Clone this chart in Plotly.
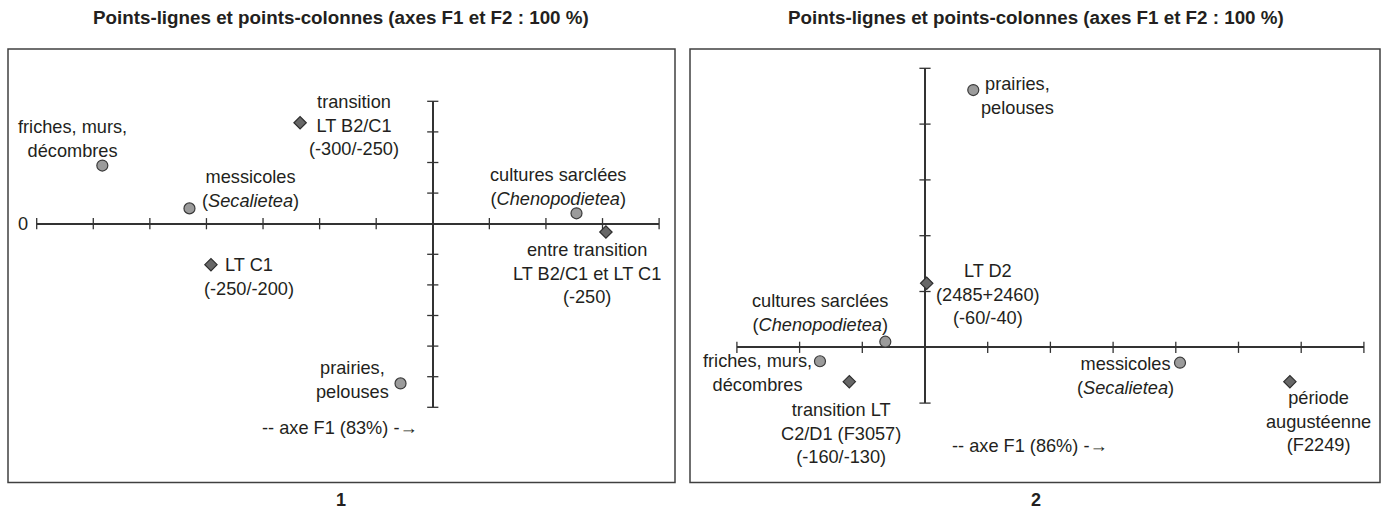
import numpy as np
import plotly.graph_objects as go

W, H = 1384, 515

# ---------------- DATA ----------------
# Panel 1 : points-colonnes (catégories écologiques) and points-lignes (périodes)
p1_cat_labels = ["friches, murs,<br>décombres", "messicoles<br>(<i>Secalietea</i>)",
                 "cultures sarclées<br>(<i>Chenopodietea</i>)", "prairies,<br>pelouses"]
p1_cat_x = [-0.584, -0.430, 0.254, -0.057]
p1_cat_y = [0.095, 0.025, 0.017, -0.261]

p1_per_labels = ["transition<br>LT B2/C1<br>(-300/-250)", "LT C1<br>(-250/-200)",
                 "entre transition<br>LT B2/C1 et LT C1<br>(-250)"]
p1_per_x = [-0.2345, -0.392, 0.306]
p1_per_y = [0.165, -0.067, -0.0136]

p1_xrange, p1_xstep = [-0.7, 0.4], 0.1
p1_yrange, p1_ystep = [-0.3, 0.2], 0.05

# Panel 2
p2_cat_labels = ["prairies,<br>pelouses", "cultures sarclées<br>(<i>Chenopodietea</i>)",
                 "friches, murs,<br>décombres", "messicoles<br>(<i>Secalietea</i>)"]
p2_cat_x = [0.077, -0.0633, -0.1675, 0.4067]
p2_cat_y = [0.461, 0.010, -0.025, -0.0276]

p2_per_labels = ["LT D2<br>(2485+2460)<br>(-60/-40)", "transition LT<br>C2/D1 (F3057)<br>(-160/-130)",
                 "période<br>augustéenne<br>(F2249)"]
p2_per_x = [0.0027, -0.1207, 0.582]
p2_per_y = [0.1147, -0.0616, -0.0616]

p2_xrange, p2_xstep = [-0.3, 0.7], 0.1
p2_yrange, p2_ystep = [-0.1, 0.5], 0.1

titles = ["Points-lignes et points-colonnes (axes F1 et F2 : 100 %)",
          "Points-lignes et points-colonnes (axes F1 et F2 : 100 %)"]
panel_names = ["1", "2"]
axis_texts = ["-- axe F1 (83%) -→", "-- axe F1 (86%) -→"]

# ---------------- STYLE / LAYOUT ----------------
TXT = "#231f20"
AX = "#333333"
FONT = "Liberation Sans, Arial, sans-serif"
FS = 18.2

# label offsets in pixels (dx right, dy up) relative to each point
p1_cat_off = [(-30, 27), (61, 19), (-18, 26), (-48, 3)]
p1_per_off = [(54, -3), (38, -12), (-19, -41)]
p2_cat_off = [(44, -6), (-65, 29), (-62, -12), (-55, -13)]
p2_per_off = [(61, -11), (-8, -52), (29, -40)]

# plot-area extents in pixels (x0, x1, y0, y1)
p1_px = (36.7, 659.1, 101.3, 407.3)
p2_px = (736.9, 1363.9, 68.3, 403.1)


def dom(px):
    x0, x1, y0, y1 = px
    return [x0 / W, x1 / W], [1 - y1 / H, 1 - y0 / H]


fig = go.Figure()


def add_panel(idx, xr, xs, yr, ys, cat_x, cat_y, per_x, per_y, cat_lab, per_lab, cat_off, per_off):
    sx = "" if idx == 1 else str(idx)
    xa, ya = "x" + sx, "y" + sx
    # tick marks crossing the axes
    xt = np.round(np.arange(xr[0], xr[1] + xs / 2, xs), 6)
    yt = np.round(np.arange(yr[0], yr[1] + ys / 2, ys), 6)
    fig.add_trace(go.Scatter(x=xt, y=np.zeros_like(xt), mode="markers", xaxis=xa, yaxis=ya,
                             marker=dict(symbol="line-ns-open", size=8, color=AX, line=dict(width=1.3, color=AX)),
                             hoverinfo="skip", showlegend=False, cliponaxis=False))
    fig.add_trace(go.Scatter(x=np.zeros_like(yt), y=yt, mode="markers", xaxis=xa, yaxis=ya,
                             marker=dict(symbol="line-ew-open", size=8, color=AX, line=dict(width=1.3, color=AX)),
                             hoverinfo="skip", showlegend=False, cliponaxis=False))
    # points-colonnes (circles)
    fig.add_trace(go.Scatter(x=cat_x, y=cat_y, mode="markers", xaxis=xa, yaxis=ya,
                             marker=dict(symbol="circle", size=11, color="#9b9b9b",
                                         line=dict(width=1.2, color="#3a3a3a")),
                             showlegend=False, cliponaxis=False))
    # points-lignes (diamonds)
    fig.add_trace(go.Scatter(x=per_x, y=per_y, mode="markers", xaxis=xa, yaxis=ya,
                             marker=dict(symbol="diamond", size=9.5, color="#676767",
                                         line=dict(width=1.2, color="#2e2e2e")),
                             showlegend=False, cliponaxis=False))
    for xs_, ys_, labs, offs in ((cat_x, cat_y, cat_lab, cat_off), (per_x, per_y, per_lab, per_off)):
        for x, y, t, (dx, dy) in zip(xs_, ys_, labs, offs):
            fig.add_annotation(x=x, y=y, xref=xa, yref=ya, text=t, showarrow=False,
                               xanchor="center", yanchor="middle", align="center",
                               xshift=dx, yshift=dy, font=dict(size=FS, color=TXT, family=FONT))


add_panel(1, p1_xrange, p1_xstep, p1_yrange, p1_ystep, p1_cat_x, p1_cat_y, p1_per_x, p1_per_y,
          p1_cat_labels, p1_per_labels, p1_cat_off, p1_per_off)
add_panel(2, p2_xrange, p2_xstep, p2_yrange, p2_ystep, p2_cat_x, p2_cat_y, p2_per_x, p2_per_y,
          p2_cat_labels, p2_per_labels, p2_cat_off, p2_per_off)

d1x, d1y = dom(p1_px)
d2x, d2y = dom(p2_px)
ax_common = dict(showgrid=False, showticklabels=False, ticks="", showline=False,
                 zeroline=True, zerolinecolor=AX, zerolinewidth=1.5, fixedrange=True)
fig.update_layout(
    width=W, height=H, margin=dict(l=0, r=0, t=0, b=0),
    paper_bgcolor="white", plot_bgcolor="white",
    xaxis=dict(domain=d1x, range=p1_xrange, anchor="y", **ax_common),
    yaxis=dict(domain=d1y, range=p1_yrange, anchor="x", **ax_common),
    xaxis2=dict(domain=d2x, range=p2_xrange, anchor="y2", **ax_common),
    yaxis2=dict(domain=d2y, range=p2_yrange, anchor="x2", **ax_common),
    showlegend=False,
)

# panel frames
for (x0, x1) in [(8, 675), (690, 1380)]:
    fig.add_shape(type="rect", xref="paper", yref="paper", x0=x0 / W, x1=x1 / W,
                  y0=1 - 482.5 / H, y1=1 - 49 / H, line=dict(color="#404040", width=1.5))

# titles, panel numbers, axis captions
for cx, t, n in [(341, titles[0], panel_names[0]), (1036, titles[1], panel_names[1])]:
    fig.add_annotation(x=cx / W, y=1 - 17 / H, xref="paper", yref="paper", text="<b>" + t + "</b>",
                       showarrow=False, xanchor="center", yanchor="middle",
                       font=dict(size=18.8, color=TXT, family=FONT))
    fig.add_annotation(x=cx / W, y=1 - 500 / H, xref="paper", yref="paper", text="<b>" + n + "</b>",
                       showarrow=False, xanchor="center", yanchor="middle",
                       font=dict(size=18, color=TXT, family=FONT))

for cx, cy, t in [(340, 428, axis_texts[0]), (1030, 446, axis_texts[1])]:
    fig.add_annotation(x=cx / W, y=1 - cy / H, xref="paper", yref="paper", text=t,
                       showarrow=False, xanchor="center", yanchor="middle",
                       font=dict(size=FS, color=TXT, family=FONT))

# "0" on the left panel's vertical scale
fig.add_annotation(x=0, y=0, xref="paper", yref="y", text="0", showarrow=False,
                   xanchor="center", yanchor="middle", xshift=23,
                   font=dict(size=FS, color=TXT, family=FONT))

fig.write_html("out.html", config={"displayModeBar": False},
               post_script="document.body.style.margin='0';")
